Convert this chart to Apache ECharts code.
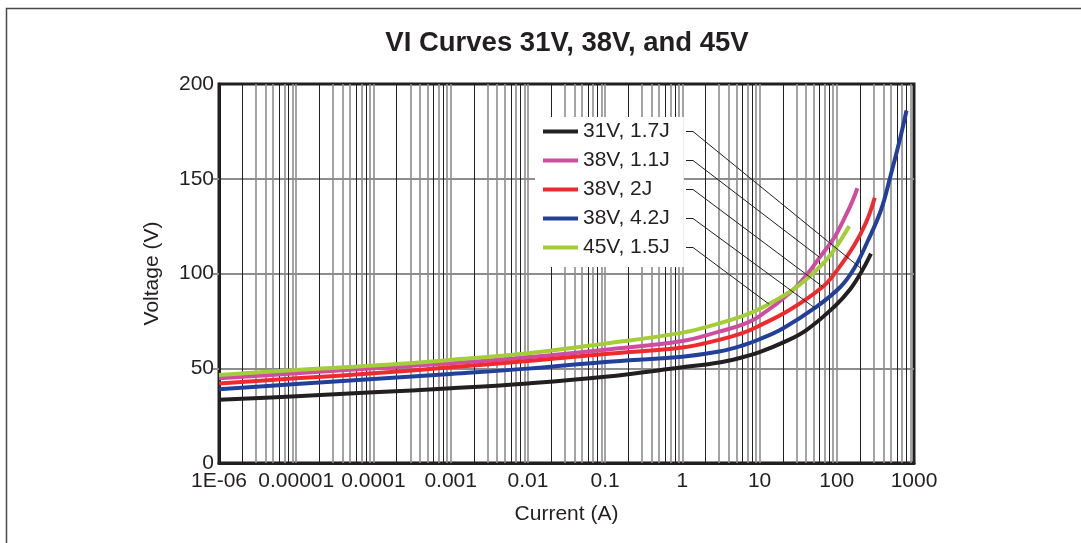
<!DOCTYPE html>
<html>
<head>
<meta charset="utf-8">
<script src="https://cdn.jsdelivr.net/npm/echarts@6/dist/echarts.min.js"></script>
<style>
html,body{margin:0;padding:0;background:#fff;}
#c{width:1081px;height:543px;}
</style>
</head>
<body>
<div id="c"></div>
<script>
// ---- data (current in A, voltage in V) ----
const seriesNames = ['31V, 1.7J', '38V, 1.1J', '38V, 2J', '38V, 4.2J', '45V, 1.5J'];
const seriesColors = ['#231f20', '#cf4c9f', '#ee2a2f', '#22409a', '#a4cd3a'];

const black31V17J = [[1e-6,33.4],[1e-5,35.2],[1e-4,37.3],[1e-3,39.4],[0.01,42],[0.1,45.5],[1,50.5],[3,53],[6,55.8],[10,58.5],[20,63.5],[40,70],[93,82.5],[150,91.8],[216,102],[277,110.5]];
const pink38V11J = [[1e-6,44.7],[1e-5,47.3],[1e-4,50],[1e-3,52.6],[0.01,55.8],[0.1,59.8],[1,64.4],[3,69.3],[6,73],[10,77.5],[25,90],[42,100],[60,108.5],[93,119],[125,129],[155,137],[185,145]];
const red38V2J = [[1e-6,42],[1e-5,44.7],[1e-4,47.3],[1e-3,50.5],[0.01,53.8],[0.1,57.5],[1,61],[3,65],[6,68.5],[10,72.5],[25,81],[66,93],[100,101.5],[169,115],[240,127],[310,140]];
const blue38V42J = [[1e-6,38.9],[1e-5,41.7],[1e-4,44.3],[1e-3,47],[0.01,49.8],[0.1,53.3],[1,56.1],[3,58.8],[6,62],[10,65.3],[20,71],[52,81.8],[112,93],[170,103],[251,117],[374,133.5],[500,152],[650,170],[800,186]];
const green45V15J = [[1e-6,46.4],[1e-5,49.1],[1e-4,51.4],[1e-3,54.4],[0.01,57.9],[0.1,63],[1,68.8],[3,73.7],[6,77.5],[10,81.3],[13.2,83.9],[25,90.5],[42,97.5],[69,106],[100,114.5],[145,125]];

const xTickLabels = ['1E-06','0.00001','0.0001','0.001','0.01','0.1','1','10','100','1000'];
const yTickValues = [0, 50, 100, 150, 200];
const yInnerTicks = [50, 100, 150];
// points on each curve where the legend leader lines end
const leaderAnchors = [[216,102],[60,108.5],[66,93],[52,81.8],[13.2,83.9]];

const seriesData = [black31V17J, pink38V11J, red38V2J, blue38V42J, green45V15J];

// ---- log grid lines (1..9 x 10^k) ----
const gridMultiples = [1,2,3,4,5,6,7,8,9];
const darkMultiples = [2,6,8];
const gridLineData = [];
for (let k = -6; k <= 2; k++) {
  for (const m of gridMultiples) {
    if (k === -6 && m === 1) continue;
    const v = Number((m * Math.pow(10, k)).toPrecision(3));
    const dark = darkMultiples.indexOf(m) >= 0;
    gridLineData.push({xAxis: v, lineStyle: {color: dark ? '#231f20' : '#8d8d8d', width: dark ? 1 : 1.6, type: 'solid'}});
  }
}

const FONT = "'Liberation Sans', Arial, Helvetica, sans-serif";
const TXT = '#231f20';

const chart = echarts.init(document.getElementById('c'), null, {renderer: 'canvas'});

const series = [{
  name: 'grid',
  type: 'line',
  data: [],
  silent: true,
  z: 1,
  markLine: {
    silent: true,
    z: 1,
    precision: 12,
    symbol: ['none', 'none'],
    label: {show: false},
    emphasis: {disabled: true},
    animation: false,
    data: gridLineData
  }
}];
seriesNames.forEach((n, i) => {
  series.push({
    name: n,
    type: 'line',
    data: seriesData[i],
    showSymbol: false,
    symbol: 'none',
    smooth: 0.4,
    z: 6,
    lineStyle: {color: seriesColors[i], width: 4, cap: 'butt', join: 'round'},
    itemStyle: {color: seriesColors[i]},
    emphasis: {disabled: true}
  });
});

const option = {
  animation: false,
  backgroundColor: '#fff',
  title: {
    text: 'VI Curves 31V, 38V, and 45V',
    left: 567,
    top: 29,
    textAlign: 'center',
    textVerticalAlign: 'top',
    padding: 0,
    textStyle: {fontFamily: FONT, fontWeight: 'bold', fontSize: 27.5, color: TXT}
  },
  grid: {
    left: 219, right: 167, top: 84, bottom: 80,
    show: true, borderColor: TXT, borderWidth: 3, backgroundColor: 'transparent'
  },
  legend: {
    data: seriesNames,
    orient: 'vertical',
    left: 535,
    top: 117,
    z: 8,
    icon: 'rect',
    itemWidth: 35,
    itemHeight: 4,
    itemGap: 8,
    padding: [4, 14, 9, 8],
    backgroundColor: '#ffffff',
    selectedMode: false,
    textStyle: {fontFamily: FONT, fontSize: 21, color: TXT, lineHeight: 21, padding: [0,0,0,0]}
  },
  xAxis: {
    type: 'log',
    logBase: 10,
    min: 1e-6,
    max: 1000,
    name: 'Current (A)',
    nameLocation: 'middle',
    nameGap: 41,
    nameTextStyle: {fontFamily: FONT, fontSize: 21, color: TXT},
    axisLine: {show: true, lineStyle: {color: TXT, width: 3}},
    axisTick: {show: false},
    splitLine: {show: false},
    minorSplitLine: {show: false},
    axisLabel: {
      fontFamily: FONT, fontSize: 21, color: TXT, margin: 8,
      formatter: function (v) {
        const i = Math.round(Math.log10(v)) + 6;
        return xTickLabels[i] !== undefined ? xTickLabels[i] : '';
      }
    }
  },
  yAxis: {
    type: 'value',
    min: 0,
    max: 200,
    interval: 50,
    name: 'Voltage (V)',
    nameLocation: 'middle',
    nameGap: 56,
    nameTextStyle: {fontFamily: FONT, fontSize: 21, color: TXT},
    axisLine: {show: true, lineStyle: {color: TXT, width: 3}},
    axisTick: {show: true, length: 6, customValues: yInnerTicks, lineStyle: {color: '#8d8d8d', width: 2}},
    splitLine: {show: true, lineStyle: {color: '#8d8d8d', width: 2}},
    axisLabel: {
      fontFamily: FONT, fontSize: 21, color: TXT, margin: 5,
      customValues: yTickValues
    }
  },
  series: series
};

chart.setOption(option);

// leader lines from legend labels to curves, and the outer frame
const legendTop = 117, legendPadTop = 4, legendItemH = 21, legendGap = 8;
const leaderStartX = 686;
const graphics = [{
  type: 'rect',
  silent: true,
  z: 0,
  shape: {x: 6.5, y: 8.5, width: 1200, height: 700},
  style: {fill: 'none', stroke: '#4a4a4a', lineWidth: 1.5}
}];
leaderAnchors.forEach((a, i) => {
  const p = chart.convertToPixel({gridIndex: 0}, a);
  const y0 = legendTop + legendPadTop + legendItemH / 2 + i * (legendItemH + legendGap);
  graphics.push({
    type: 'polyline',
    silent: true,
    z: 10,
    shape: {points: [[leaderStartX, y0], [leaderStartX + 7, y0], [p[0], p[1]]]},
    style: {fill: 'none', stroke: TXT, lineWidth: 1}
  });
});
chart.setOption({graphic: graphics});
</script>
</body>
</html>
